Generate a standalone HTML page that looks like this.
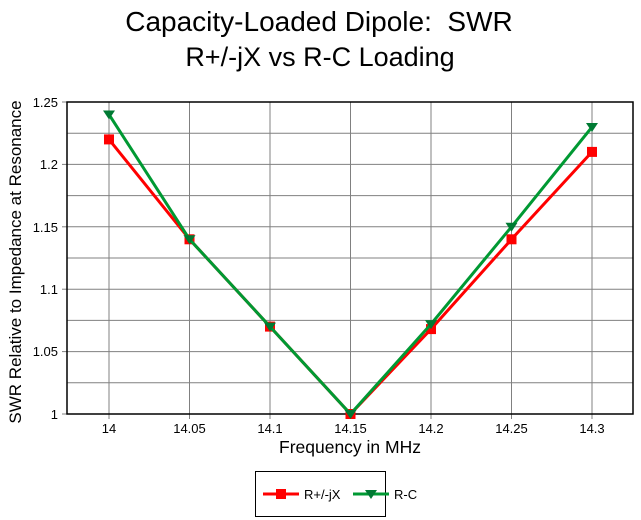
<!DOCTYPE html>
<html><head><style>
body{margin:0;background:#fff;}
svg{display:block;font-family:"Liberation Sans",sans-serif;}
</style></head><body>
<svg width="641" height="520" xmlns="http://www.w3.org/2000/svg">
<rect width="641" height="520" fill="#fff"/>
<text x="319" y="31" font-size="28" text-anchor="middle">Capacity-Loaded Dipole:&#160; SWR</text>
<text x="320" y="66" font-size="27" text-anchor="middle">R+/-jX vs R-C Loading</text>
<g stroke="#808080" stroke-width="1">
<line x1="67" x2="633" y1="133.2" y2="133.2"/><line x1="67" x2="633" y1="164.4" y2="164.4"/>
<line x1="67" x2="633" y1="195.6" y2="195.6"/><line x1="67" x2="633" y1="226.8" y2="226.8"/>
<line x1="67" x2="633" y1="258" y2="258"/><line x1="67" x2="633" y1="289.2" y2="289.2"/>
<line x1="67" x2="633" y1="320.4" y2="320.4"/><line x1="67" x2="633" y1="351.6" y2="351.6"/>
<line x1="67" x2="633" y1="382.8" y2="382.8"/>
<line x1="109" x2="109" y1="102" y2="419"/><line x1="189.5" x2="189.5" y1="102" y2="419"/>
<line x1="270" x2="270" y1="102" y2="419"/><line x1="350.5" x2="350.5" y1="102" y2="419"/>
<line x1="431" x2="431" y1="102" y2="419"/><line x1="511.5" x2="511.5" y1="102" y2="419"/>
<line x1="592" x2="592" y1="102" y2="419"/>
<line x1="62" x2="67" y1="164.4" y2="164.4"/><line x1="62" x2="67" y1="226.8" y2="226.8"/>
<line x1="62" x2="67" y1="289.2" y2="289.2"/><line x1="62" x2="67" y1="351.6" y2="351.6"/>
<line x1="62" x2="67" y1="102" y2="102"/><line x1="62" x2="67" y1="414" y2="414"/>
</g>
<rect x="67" y="102" width="566" height="312" fill="none" stroke="#000" stroke-width="1.5"/>
<g font-size="13" text-anchor="end">
<text x="58" y="107">1.25</text><text x="58" y="169">1.2</text><text x="58" y="232">1.15</text>
<text x="58" y="294">1.1</text><text x="58" y="356">1.05</text><text x="58" y="419">1</text>
</g>
<g font-size="13" text-anchor="middle">
<text x="109" y="433">14</text><text x="189.5" y="433">14.05</text><text x="270" y="433">14.1</text>
<text x="350.5" y="433">14.15</text><text x="431" y="433">14.2</text><text x="511.5" y="433">14.25</text>
<text x="592" y="433">14.3</text>
</g>
<text x="350" y="453" font-size="17.5" text-anchor="middle">Frequency in MHz</text>
<text transform="translate(21,262) rotate(-90)" font-size="17" text-anchor="middle">SWR Relative to Impedance at Resonance</text>
<polyline fill="none" stroke="#ff0000" stroke-width="3" points="109,139.4 189.5,239.3 270,326.6 350.5,414 431,329.1 511.5,239.3 592,151.9"/>
<g fill="#ff0000">
<rect x="104" y="134.4" width="10" height="10"/><rect x="184.5" y="234.3" width="10" height="10"/>
<rect x="265" y="321.6" width="10" height="10"/><rect x="345.5" y="409" width="10" height="10"/>
<rect x="426" y="324.1" width="10" height="10"/><rect x="506.5" y="234.3" width="10" height="10"/>
<rect x="587" y="146.9" width="10" height="10"/>
</g>
<polyline fill="none" stroke="#009933" stroke-width="3" points="109,114.5 189.5,239.3 270,326.6 350.5,414 431,324.1 511.5,226.8 592,127"/>
<g fill="#007a33">
<polygon points="103,110.5 115,110.5 109,119.5"/><polygon points="183.5,235.3 195.5,235.3 189.5,244.3"/>
<polygon points="264,322.6 276,322.6 270,331.6"/><polygon points="344.5,410 356.5,410 350.5,419"/>
<polygon points="425,320.1 437,320.1 431,329.1"/><polygon points="505.5,222.8 517.5,222.8 511.5,231.8"/>
<polygon points="586,123 598,123 592,132"/>
</g>
<rect x="255.5" y="471.5" width="130" height="45" fill="#fff" stroke="#000" stroke-width="1"/>
<line x1="263" x2="299" y1="494" y2="494" stroke="#ff0000" stroke-width="3"/>
<rect x="276" y="489" width="10" height="10" fill="#ff0000"/>
<text x="304" y="499" font-size="13">R+/-jX</text>
<line x1="353" x2="389" y1="494" y2="494" stroke="#009933" stroke-width="3"/>
<polygon points="365,490 377,490 371,499" fill="#007a33"/>
<text x="394" y="499" font-size="13">R-C</text>
</svg>
</body></html>
